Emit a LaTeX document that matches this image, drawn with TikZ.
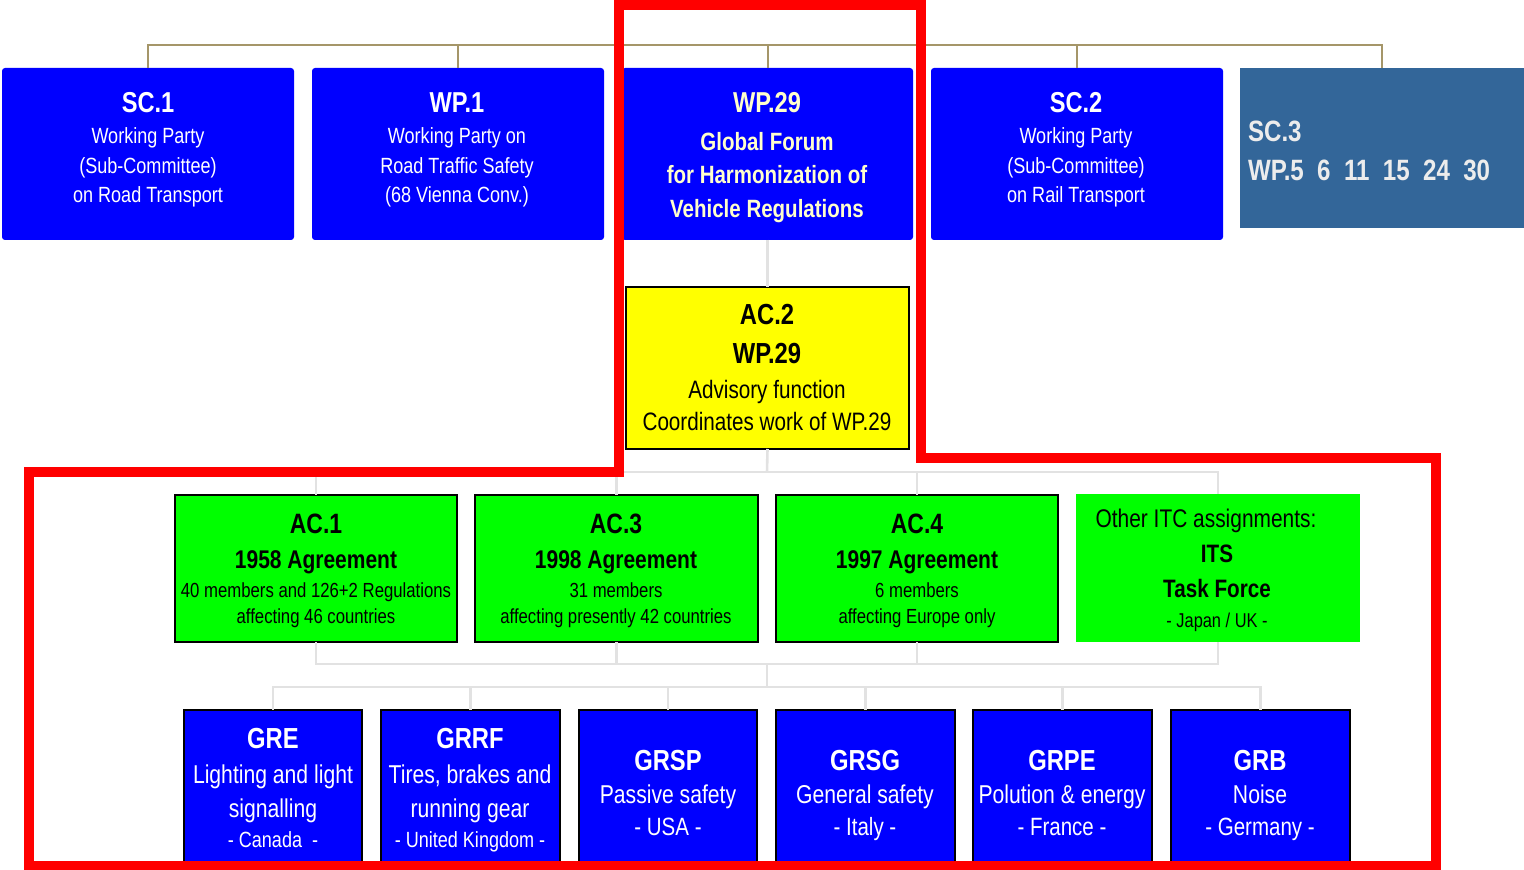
\documentclass[tikz,border=0pt]{standalone}
\usepackage{fontspec}
\setmainfont{Liberation Sans}[FakeStretch=0.82]
\usetikzlibrary{fit}
\definecolor{ublue}{RGB}{0,0,255}
\definecolor{steel}{RGB}{51,102,153}
\definecolor{tanc}{RGB}{165,150,105}
\definecolor{lgray}{RGB}{226,226,226}
\definecolor{ltyellow}{RGB}{255,255,204}
\definecolor{offwhite}{RGB}{236,236,236}
\definecolor{ugreen}{RGB}{0,255,0}
\definecolor{uyellow}{RGB}{255,255,0}
\definecolor{ured}{RGB}{255,0,0}
\newcommand\fs[1]{\fontsize{#1}{#1}\selectfont}
\tikzset{
  boxbase/.style={inner sep=0pt, outer sep=0pt},
  topbox/.style={boxbase, fill=ublue, rounded corners=1.5pt},
  sc3box/.style={boxbase, fill=steel},
  ac2box/.style={boxbase, fill=uyellow, draw=black, line width=0.9pt},
  acbox/.style={boxbase, fill=ugreen, draw=black, line width=0.9pt},
  othbox/.style={boxbase, fill=ugreen},
  grbox/.style={boxbase, fill=ublue, draw=black, line width=0.7pt},
  tanconn/.style={draw=tanc, line width=1pt},
  grayconn/.style={draw=lgray, line width=1.3pt},
  redframe/.style={draw=ured, line width=4.6pt, line join=miter},
  tl/.style={anchor=base, inner sep=0pt, outer sep=0pt},
  ttlw/.style={tl, text=white, font=\bfseries\fs{14.4}},
  bodyw/.style={tl, text=white, font=\fs{11}},
  ttly/.style={tl, text=ltyellow, font=\bfseries\fs{14.4}},
  bodyy/.style={tl, text=ltyellow, font=\bfseries\fs{12.5}},
  sc3txt/.style={tl, anchor=base west, text=offwhite, font=\bfseries\fs{14.7}},
  ac2ttl/.style={tl, font=\bfseries\fs{14.5}},
  ac2body/.style={tl, font=\fs{12.6}},
  acttl/.style={tl, font=\bfseries\fs{14}},
  acsub/.style={tl, font=\bfseries\fs{12.8}},
  acsmall/.style={tl, font=\fs{10.2}},
  othbody/.style={tl, font=\fs{12.75}},
  othsub/.style={tl, font=\bfseries\fs{12.6}},
  othsmall/.style={tl, font=\fs{10}},
  grttl/.style={tl, text=white, font=\bfseries\fs{14.5}},
  grbody/.style={tl, text=white, font=\fs{12.9}},
  grsmall/.style={tl, text=white, font=\fs{11}},
  grctry/.style={tl, text=white, font=\fs{12.5}},
}
\begin{document}
\begin{tikzpicture}[x=0.5pt,y=-0.5pt]
\useasboundingbox (0,0) rectangle (1524,870);
% ---------- boxes ----------
\node[topbox, fit={(2,68) (294,240)}] (sc1) {};
\node[topbox, fit={(312,68) (604,240)}] (wp1) {};
\node[topbox, fit={(622,68) (913,240)}] (wp29) {};
\node[topbox, fit={(931,68) (1223,240)}] (sc2) {};
\node[sc3box, fit={(1240,68) (1524,228)}] (sc3) {};
\node[ac2box, fit={(626,287) (909,449)}] (ac2) {};
\node[acbox, fit={(175,495) (457,642)}] (ac1) {};
\node[acbox, fit={(475,495) (758,642)}] (ac3) {};
\node[acbox, fit={(776,495) (1058,642)}] (ac4) {};
\node[othbox, fit={(1076,494) (1360,642)}] (oth) {};
\node[grbox, fit={(184,710) (362,866)}] (gre) {};
\node[grbox, fit={(381,710) (560,866)}] (grrf) {};
\node[grbox, fit={(579,710) (757,866)}] (grsp) {};
\node[grbox, fit={(776,710) (955,866)}] (grsg) {};
\node[grbox, fit={(973,710) (1152,866)}] (grpe) {};
\node[grbox, fit={(1171,710) (1350,866)}] (grb) {};
% ---------- connectors ----------
\coordinate (topbus) at (767,45);
\draw[tanconn] (sc1.north) |- (topbus) -| (sc3.north);
\draw[tanconn] (wp1.north) -- (wp1.north |- topbus);
\draw[tanconn] (wp29.north) -- (wp29.north |- topbus);
\draw[tanconn] (sc2.north) -- (sc2.north |- topbus);
\coordinate (acbus) at (767,472);
\coordinate (acjoin) at (767,664);
\coordinate (grbus) at (767,687);
\draw[grayconn] (wp29.south) -- (ac2.north);
\draw[grayconn] (ac2.south) -- (acbus);
\draw[grayconn] (ac1.north) |- (acbus) -| (oth.north);
\draw[grayconn] (ac3.north) -- (ac3.north |- acbus);
\draw[grayconn] (ac4.north) -- (ac4.north |- acbus);
\draw[grayconn] (ac1.south) |- (acjoin) -| (oth.south);
\draw[grayconn] (ac3.south) -- (ac3.south |- acjoin);
\draw[grayconn] (ac4.south) -- (ac4.south |- acjoin);
\draw[grayconn] (acjoin) -- (grbus);
\draw[grayconn] (gre.north) |- (grbus) -| (grb.north);
\draw[grayconn] (grrf.north) -- (grrf.north |- grbus);
\draw[grayconn] (grsp.north) -- (grsp.north |- grbus);
\draw[grayconn] (grsg.north) -- (grsg.north |- grbus);
\draw[grayconn] (grpe.north) -- (grpe.north |- grbus);
% ---------- texts: top row ----------
\node[ttlw] (sc1a) at (148,113) {SC.1};
\node[bodyw] (sc1b) at (148,144) {Working Party};
\node[bodyw] (sc1c) at (148,174) {(Sub-Committee)};
\node[bodyw] (sc1d) at (148,203) {on Road Transport};
\node[ttlw] (wp1a) at (457,113) {WP.1};
\node[bodyw] (wp1b) at (457,144) {Working Party on};
\node[bodyw] (wp1c) at (457,174) {Road Traffic Safety};
\node[bodyw] (wp1d) at (457,203) {(68 Vienna Conv.)};
\node[ttly] (wp29a) at (767,113) {WP.29};
\node[bodyy] (wp29b) at (767,151) {Global Forum};
\node[bodyy] (wp29c) at (767,184) {for Harmonization of};
\node[bodyy] (wp29d) at (767,218) {Vehicle Regulations};
\node[ttlw] (sc2a) at (1076,113) {SC.2};
\node[bodyw] (sc2b) at (1076,144) {Working Party};
\node[bodyw] (sc2c) at (1076,174) {(Sub-Committee)};
\node[bodyw] (sc2d) at (1076,203) {on Rail Transport};
\node[sc3txt] (sc3a) at (1248,142) {SC.3};
\node[sc3txt] (sc3b) at (1248,181) {WP.5\ \ 6\ \ 11\ \ 15\ \ 24\ \ 30};
% ---------- AC.2 ----------
\node[ac2ttl] (ac2a) at (767,325) {AC.2};
\node[ac2ttl] (ac2b) at (767,364) {WP.29};
\node[ac2body] (ac2c) at (767,399) {Advisory function};
\node[ac2body] (ac2d) at (767,431) {Coordinates work of WP.29};
% ---------- AC row ----------
\node[acttl] (ac1a) at (316,534) {AC.1};
\node[acsub] (ac1b) at (316,568) {1958 Agreement};
\node[acsmall] (ac1c) at (316,597) {40 members and 126+2 Regulations};
\node[acsmall] (ac1d) at (316,624) {affecting 46 countries};
\node[acttl] (ac3a) at (616,534) {AC.3};
\node[acsub] (ac3b) at (616,568) {1998 Agreement};
\node[acsmall] (ac3c) at (616,597) {31 members};
\node[acsmall] (ac3d) at (616,624) {affecting presently 42 countries};
\node[acttl] (ac4a) at (917,534) {AC.4};
\node[acsub] (ac4b) at (917,568) {1997 Agreement};
\node[acsmall] (ac4c) at (917,597) {6 members};
\node[acsmall] (ac4d) at (917,624) {affecting Europe only};
\node[othbody] (otha) at (1206,528) {Other ITC assignments:};
\node[othsub] (othb) at (1217,563) {ITS};
\node[othsub] (othc) at (1217,597) {Task Force};
\node[othsmall] (othd) at (1217,627) {- Japan / UK -};
% ---------- GR row ----------
\node[grttl] (grea) at (273,748) {GRE};
\node[grbody] (greb) at (273,783) {Lighting and light};
\node[grbody] (grec) at (273,817) {signalling};
\node[grsmall] (gred) at (273,847) {- Canada\ \ -};
\node[grttl] (grrfa) at (470,748) {GRRF};
\node[grbody] (grrfb) at (470,783) {Tires, brakes and};
\node[grbody] (grrfc) at (470,817) {running gear};
\node[grsmall] (grrfd) at (470,847) {- United Kingdom -};
\node[grttl] (grspa) at (668,770) {GRSP};
\node[grbody] (grspb) at (668,803) {Passive safety};
\node[grctry] (grspc) at (668,835) {- USA -};
\node[grttl] (grsga) at (865,770) {GRSG};
\node[grbody] (grsgb) at (865,803) {General safety};
\node[grctry] (grsgc) at (865,835) {- Italy -};
\node[grttl] (grpea) at (1062,770) {GRPE};
\node[grbody] (grpeb) at (1062,803) {Polution \& energy};
\node[grctry] (grpec) at (1062,835) {- France -};
\node[grttl] (grba) at (1260,770) {GRB};
\node[grbody] (grbb) at (1260,803) {Noise};
\node[grctry] (grbc) at (1260,835) {- Germany -};
% ---------- red frame ----------
\draw[redframe] (619,5) -- (921,5) -- (921,458) -- (1436,458) -- (1436,866)
  -- (29,866) -- (29,472) -- (619,472) -- cycle;
\end{tikzpicture}
\end{document}
